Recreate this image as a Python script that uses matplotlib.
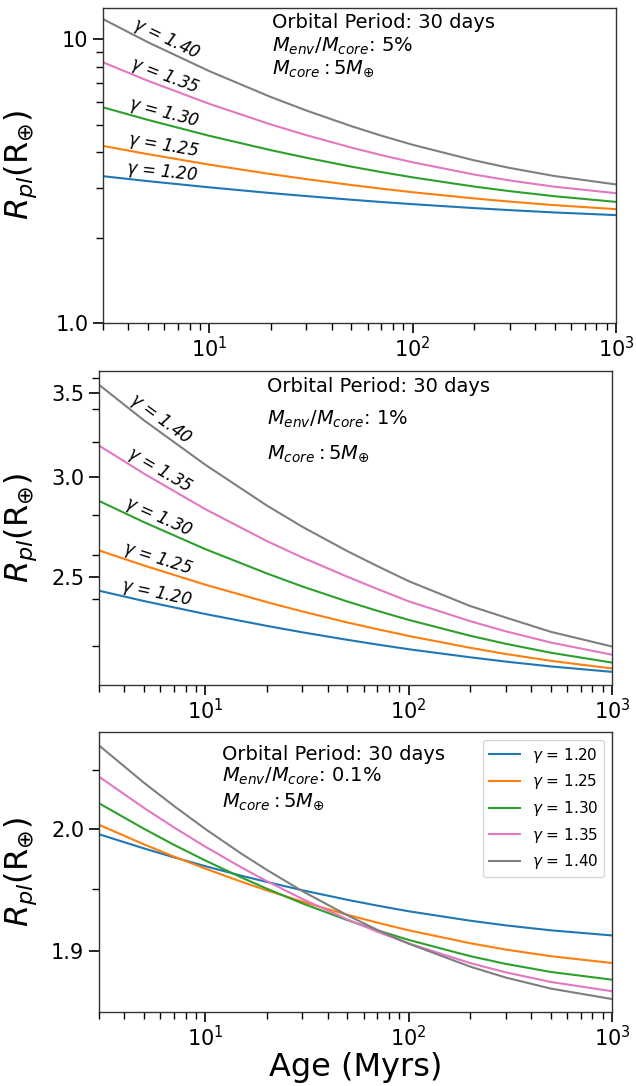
import numpy as np
import matplotlib
matplotlib.use("Agg")
import matplotlib.pyplot as plt
from matplotlib.ticker import FixedLocator, FuncFormatter, NullFormatter, LogLocator

# ---------------- data ----------------
gammas = ["1.20", "1.25", "1.30", "1.35", "1.40"]
colors = ["tab:blue", "tab:orange", "tab:green", "tab:pink", "tab:gray"]

ages = [3, 5, 10, 20, 30, 50, 70, 100, 200, 300, 500, 1000]

# Panel 1: Menv/Mcore = 5%
r5_120 = [3.293, 3.163, 3.008, 2.872, 2.802, 2.720, 2.671, 2.624, 2.542, 2.500, 2.453, 2.401]
r5_125 = [4.210, 3.937, 3.617, 3.351, 3.216, 3.065, 2.977, 2.891, 2.750, 2.679, 2.603, 2.520]
r5_130 = [5.760, 5.199, 4.571, 4.070, 3.825, 3.558, 3.406, 3.262, 3.028, 2.917, 2.798, 2.673]
r5_135 = [8.300, 7.140, 5.925, 5.016, 4.595, 4.153, 3.909, 3.687, 3.339, 3.181, 3.022, 2.869]
r5_140 = [11.79, 9.763, 7.727, 6.269, 5.613, 4.942, 4.578, 4.249, 3.747, 3.521, 3.296, 3.080]

# Panel 2: Menv/Mcore = 1%
r1_120 = [2.437, 2.391, 2.335, 2.285, 2.258, 2.227, 2.208, 2.189, 2.157, 2.140, 2.121, 2.100]
r1_125 = [2.624, 2.552, 2.464, 2.387, 2.346, 2.299, 2.271, 2.243, 2.195, 2.170, 2.143, 2.113]
r1_130 = [2.873, 2.763, 2.630, 2.516, 2.456, 2.389, 2.349, 2.310, 2.244, 2.211, 2.175, 2.136]
r1_135 = [3.180, 3.020, 2.830, 2.670, 2.590, 2.500, 2.445, 2.390, 2.305, 2.262, 2.216, 2.167]
r1_140 = [3.555, 3.330, 3.070, 2.850, 2.740, 2.620, 2.550, 2.480, 2.370, 2.320, 2.260, 2.200]

# Panel 3: Menv/Mcore = 0.1%
ages_b = [3, 5, 7, 10, 15, 20, 30, 50, 70, 100, 200, 300, 500, 1000]
r01_120 = [1.9955, 1.9836, 1.9763, 1.9689, 1.9611, 1.9560, 1.9491, 1.9413, 1.9366, 1.9320, 1.9244, 1.9206, 1.9166, 1.9125]
r01_125 = [2.0034, 1.9870, 1.9769, 1.9669, 1.9562, 1.9491, 1.9398, 1.9291, 1.9228, 1.9166, 1.9063, 1.9012, 1.8959, 1.8905]
r01_130 = [2.0216, 2.0000, 1.9867, 1.9736, 1.9597, 1.9505, 1.9384, 1.9248, 1.9167, 1.9089, 1.8960, 1.8898, 1.8834, 1.8773]
r01_135 = [2.0443, 2.0176, 2.0013, 1.9851, 1.9680, 1.9567, 1.9420, 1.9254, 1.9155, 1.9061, 1.8905, 1.8831, 1.8755, 1.8682]
r01_140 = [2.0713, 2.0390, 2.0194, 1.9999, 1.9794, 1.9660, 1.9484, 1.9287, 1.9170, 1.9059, 1.8877, 1.8790, 1.8703, 1.8621]

panel_text = [
    ["Orbital Period: 30 days", r"$M_{env}/M_{core}$: 5%", r"$M_{core}: 5M_{\oplus}$"],
    ["Orbital Period: 30 days", r"$M_{env}/M_{core}$: 1%", r"$M_{core}: 5M_{\oplus}$"],
    ["Orbital Period: 30 days", r"$M_{env}/M_{core}$: 0.1%", r"$M_{core}: 5M_{\oplus}$"],
]

ylims = [(1.0, 12.9), (2.05, 3.646), (1.852, 2.083)]
yticks_major = [[1.0, 10.0], [2.5, 3.0, 3.5], [1.9, 2.0]]
yticklabels = [["1.0", "10"], ["2.5", "3.0", "3.5"], ["1.9", "2.0"]]
yticks_minor = [[2, 3, 4, 5, 6, 7, 8, 9], [2.2, 2.4, 2.6, 2.8, 3.2, 3.4, 3.6], [1.95, 2.05]]
xlim = (3, 1000)

# ---------------- figure ----------------
W, H = 636, 1086
fig = plt.figure(figsize=(W / 100, H / 100), dpi=100)


def add_axes(l, t, r, b):
    return fig.add_axes([l / W, 1 - b / H, (r - l) / W, (b - t) / H])


ax1 = add_axes(103, 8, 616, 323)
ax2 = add_axes(99, 371, 612, 685)
ax3 = add_axes(99, 732, 612, 1012)
axes = [ax1, ax2, ax3]

series = [
    (ages, [r5_120, r5_125, r5_130, r5_135, r5_140]),
    (ages, [r1_120, r1_125, r1_130, r1_135, r1_140]),
    (ages_b, [r01_120, r01_125, r01_130, r01_135, r01_140]),
]

for i, ax in enumerate(axes):
    xs, ys_list = series[i]
    for g, c, ys in zip(gammas, colors, ys_list):
        ax.plot(xs, ys, color=c, lw=1.5, label=r"$\gamma$ = " + g)
    ax.set_xscale("log")
    ax.set_yscale("log")
    ax.set_xlim(*xlim)
    ax.set_ylim(*ylims[i])
    ax.yaxis.set_major_locator(FixedLocator(yticks_major[i]))
    ax.yaxis.set_major_formatter(FuncFormatter(
        lambda v, p, labs=yticklabels[i], vals=yticks_major[i]:
        labs[int(np.argmin([abs(v - q) for q in vals]))]))
    ax.yaxis.set_minor_locator(FixedLocator(yticks_minor[i]))
    ax.yaxis.set_minor_formatter(NullFormatter())
    ax.xaxis.set_major_locator(LogLocator(base=10))
    ax.xaxis.set_minor_locator(LogLocator(base=10, subs=np.arange(2, 10)))
    ax.xaxis.set_minor_formatter(NullFormatter())
    ax.tick_params(which="major", direction="out", length=7, width=1.2, labelsize=15)
    ax.tick_params(axis="x", which="major", pad=2.5)
    ax.tick_params(which="minor", direction="out", length=5, width=1.0)
    for s in ax.spines.values():
        s.set_linewidth(1.0)
        s.set_color("#333333")
    ax.set_ylabel(r"$R_{pl}$(R$_{\oplus}$)", fontsize=23)

ax1.yaxis.set_label_coords((39 - 103) / 513, 0.5)
ax2.yaxis.set_label_coords((39 - 99) / 513, 0.5)
ax3.yaxis.set_label_coords((39 - 99) / 513, 0.5)

ax3.set_xlabel("Age (Myrs)", fontsize=23)
ax3.xaxis.set_label_coords(0.5, (1012 - 1052) / 280)

# annotation texts (pixel positions)
text_pos = [(271.7, [27.5, 52.0, 74.0]), (266.7, [391.7, 425.0, 458.3]), (221.7, [760.0, 782.0, 806.7])]
for (x0, ybs), lines in zip(text_pos, panel_text):
    for yb, line in zip(ybs, lines):
        fig.text(x0 / W, 1 - yb / H, line, fontsize=14, va="baseline", ha="left")


# curve labels following the curves
def label_curve(ax, xs, ys, xpos, text):
    lx = np.log10(xs)
    ly = np.log10(ys)
    ypos = 10 ** np.interp(np.log10(xpos), lx, ly)
    xa, xb = xpos / 1.25, xpos * 1.25
    pa = ax.transData.transform((xa, 10 ** np.interp(np.log10(xa), lx, ly)))
    pb = ax.transData.transform((xb, 10 ** np.interp(np.log10(xb), lx, ly)))
    ang = np.degrees(np.arctan2(pb[1] - pa[1], pb[0] - pa[0]))
    ax.text(xpos, ypos, text, rotation=ang, rotation_mode="anchor",
            ha="center", va="bottom", fontsize=12, style="italic")


for ax, xpos, (xs, ys_list) in zip([ax1, ax2], [5.8, 5.6], series[:2]):
    for g, ys in zip(gammas, ys_list):
        label_curve(ax, xs, ys, xpos, r"$\gamma$ = " + g)

ax3.legend(loc="upper right", fontsize=11)

fig.savefig("out.png", dpi=100)
